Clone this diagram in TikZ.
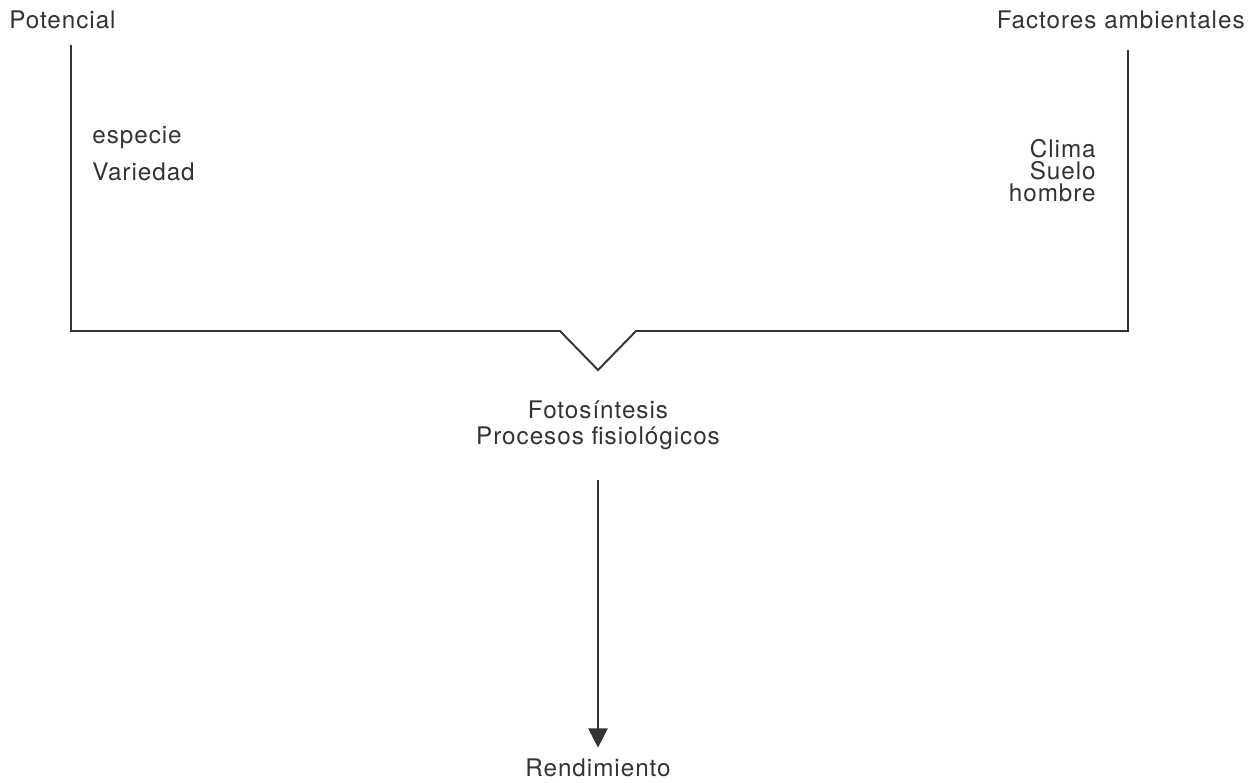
\documentclass[tikz,border=0pt]{standalone}
\usepackage{fontspec}
\setmainfont{TeX Gyre Heros}[LetterSpace=4]
\usetikzlibrary{arrows.meta}

\begin{document}
\begin{tikzpicture}[x=0.02cm,y=-0.02cm,
  lbl/.style={inner sep=0pt,text=black!80,font=\fontsize{13.8}{16}\selectfont},
  wire/.style={line width=1.1pt,color=black!80},
  flow/.style={line width=1.1pt,color=black!80,-{Triangle[length=11pt,width=11pt]}}]
\useasboundingbox (0,0) rectangle (1251,782);
% upper texts
\node[lbl,anchor=west] (pot) at (9,20) {Potencial};
\node[lbl,anchor=east] (fac) at (1245,20) {Factores ambientales};
\node[lbl,anchor=west] (esp) at (92,138) {especie};
\node[lbl,anchor=west] (var) at (92,172) {Variedad};
\node[lbl,anchor=east] (cli) at (1096,149) {Clima};
\node[lbl,anchor=east] (sue) at (1096,171) {Suelo};
\node[lbl,anchor=east] (hom) at (1096,193) {hombre};
% lower texts
\node[lbl] (foto) at (598,410) {Fotosíntesis};
\node[lbl] (proc) at (598,438) {Procesos fisiológicos};
\node[lbl] (rend) at (598,768) {Rendimiento};
% bracket
\coordinate (lt) at (71,45);
\coordinate (rt) at (1128,50);
\coordinate (vl) at (560,331);
\coordinate (vtip) at (598,370);
\coordinate (vr) at (636,331);
\draw[wire] (lt) |- (vl) -- (vtip) -- (vr) -| (rt);
% arrow
\coordinate (astart) at (598,480);
\draw[flow] (astart) -- ([yshift=0.22cm]rend.north);
\end{tikzpicture}
\end{document}
